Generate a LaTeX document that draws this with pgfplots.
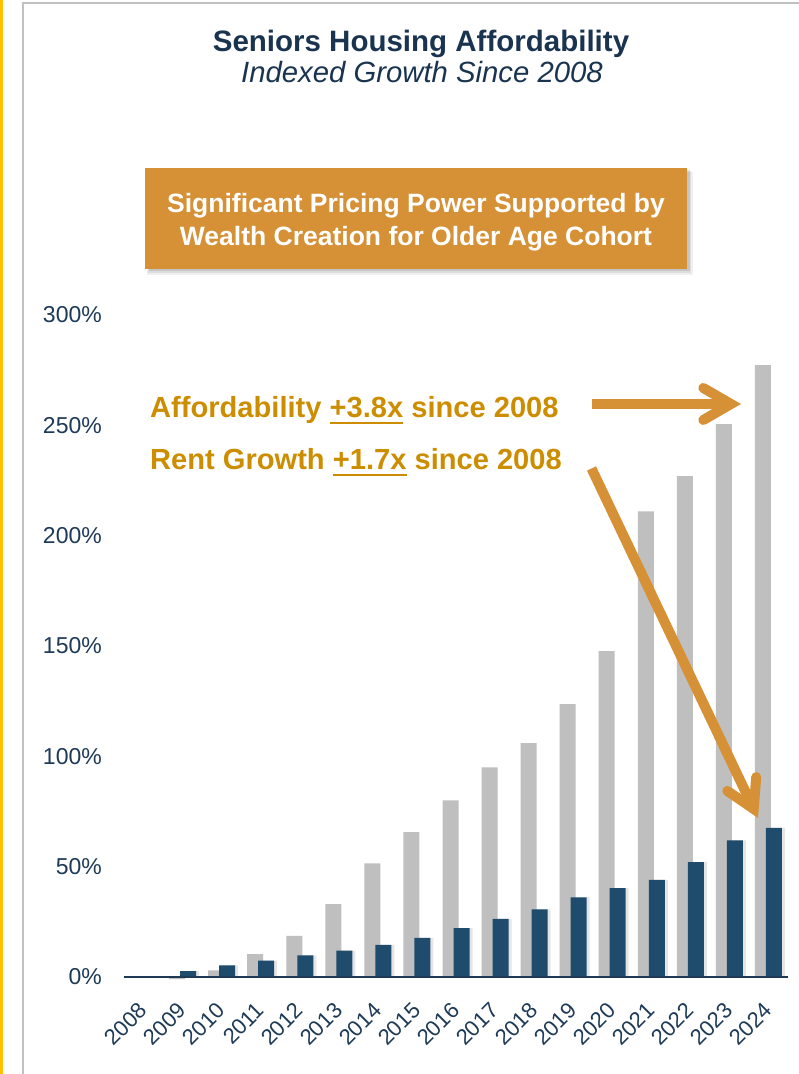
\documentclass[border=0pt]{standalone}
\usepackage{fontspec}
\setmainfont{Liberation Sans}
\usepackage{pgfplots}
\pgfplotsset{compat=1.18}
\definecolor{titlenavy}{HTML}{1A3450}
\definecolor{ticknavy}{HTML}{1E3A56}
\definecolor{darkbar}{HTML}{1F4B6C}
\definecolor{greybar}{HTML}{BFBFBF}
\definecolor{boxorange}{HTML}{D69035}
\definecolor{goldtext}{HTML}{CC8E00}
\definecolor{arroworange}{HTML}{D69035}
\definecolor{framegrey}{HTML}{C0C0C0}
\definecolor{yellowline}{HTML}{FFC000}
\newsavebox\ulbox
\newcommand\ul[1]{\sbox\ulbox{#1}\rlap{\rule[-6.3pt]{\wd\ulbox}{2.7pt}}\usebox\ulbox}

\pgfplotstableread{
x y
0 0
1 -1
2 3
3 10.4
4 18.6
5 33
6 51.5
7 65.6
8 80
9 95
10 106
11 123.7
12 147.7
13 211
14 227
15 250.6
16 277.3
}\afford

\pgfplotstableread{
x y
0 0
1 2.7
2 5.3
3 7.4
4 9.8
5 11.9
6 14.6
7 17.7
8 22.2
9 26.3
10 30.7
11 36.1
12 40.3
13 44
14 52.1
15 61.9
16 67.6
}\rent

\begin{document}
\begin{tikzpicture}[x=1pt,y=1pt]
\useasboundingbox (0,0) rectangle (799,1074);
\fill[white] (0,0) rectangle (799,1074);
% frame
\fill[yellowline] (0,0) rectangle (2.6,1074);
\draw[framegrey, line width=2.6pt] (23,0) -- (23,1071) -- (800,1071);
% titles
\node[anchor=base, text=titlenavy, font=\fontsize{29.5}{34}\selectfont\bfseries] at (421,1022) {Seniors Housing Affordability};
\node[anchor=base, text=titlenavy, font=\fontsize{29.3}{34}\selectfont\itshape] at (422,991) {Indexed Growth Since 2008};
% box with shadow
\fill[black, opacity=0.06] (147,799) rectangle (693,902);
\fill[black, opacity=0.08] (148,801) rectangle (691,903);
\fill[black, opacity=0.10] (149,802.5) rectangle (689.5,904);
\fill[boxorange] (145,805) rectangle (687,906);
\node[anchor=base, text=white, font=\fontsize{26.5}{30}\selectfont\bfseries] at (416,861) {Significant Pricing Power Supported by};
\node[anchor=base, text=white, font=\fontsize{26.5}{30}\selectfont\bfseries] at (416,828) {Wealth Creation for Older Age Cohort};

\begin{axis}[
  at={(124pt,97pt)}, anchor=south west,
  width=664pt, height=662pt, scale only axis,
  xmin=-0.5, xmax=16.5, ymin=0, ymax=300,
  clip=false,
  axis line style={draw=none},
  tick style={draw=none},
  major tick length=0pt,
  xtick={0,1,2,3,4,5,6,7,8,9,10,11,12,13,14,15,16},
  xticklabels={2008,2009,2010,2011,2012,2013,2014,2015,2016,2017,2018,2019,2020,2021,2022,2023,2024},
  ytick={0,50,100,150,200,250,300},
  yticklabels={0\%,50\%,100\%,150\%,200\%,250\%,300\%},
  xticklabel style={xshift=-6pt, yshift=-24pt, rotate=45, anchor=north east, inner sep=0pt, text=ticknavy, font=\fontsize{22}{26}\selectfont},
  yticklabel style={xshift=-22pt, anchor=east, inner sep=0pt, text=ticknavy, font=\fontsize{23}{27}\selectfont},
]
\addplot[ybar, bar width=16pt, bar shift=-5.5pt, fill=greybar, draw=none] table[x=x,y=y] {\afford};
\addplot[ybar, bar width=16pt, bar shift=8.5pt, fill=black, opacity=0.10, draw=none] table[x=x,y=y] {\rent};
\addplot[ybar, bar width=16pt, bar shift=5.5pt, fill=darkbar, draw=none] table[x=x,y=y] {\rent};
\draw[ticknavy, line width=2pt] (axis cs:-0.5,0) -- (axis cs:16.5,0);
\end{axis}

% annotations
\node[anchor=base west, inner sep=0pt, text=goldtext, font=\fontsize{29.1}{33}\selectfont\bfseries] at (150,656) {Affordability \ul{+3.8x} since 2008};
\node[anchor=base west, inner sep=0pt, text=goldtext, font=\fontsize{29.1}{33}\selectfont\bfseries] at (150,604) {Rent Growth \ul{+1.7x} since 2008};
% arrows
\draw[arroworange, line width=10pt, line cap=butt] (592,670) -- (731,670);
\draw[arroworange, line width=10pt, line cap=round, line join=miter] (703.3,686) -- (731,670) -- (703.3,654);
\draw[arroworange, line width=10pt, line cap=butt] (591.5,605.5) -- (753.7,265);
\draw[arroworange, line width=10pt, line cap=round, line join=miter] (756.2,296.9) -- (753.7,265) -- (727.3,283.1);
\end{tikzpicture}
\end{document}
